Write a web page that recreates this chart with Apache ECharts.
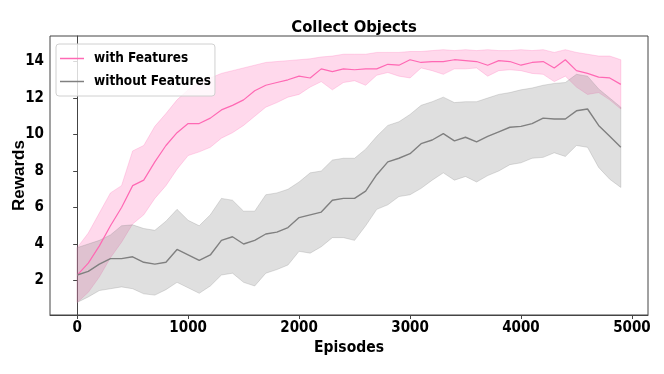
<!DOCTYPE html>
<html>
<head>
<meta charset="utf-8">
<script src="https://cdn.jsdelivr.net/npm/echarts@6/dist/echarts.min.js"></script>
<style>
  html, body { margin: 0; padding: 0; background: #fff; }
  #main { width: 664px; height: 374px; }
</style>
</head>
<body>
<div id="main"></div>
<script>
// episodes sampled every 100
const episodes = [0, 100, 200, 300, 400, 500, 600, 700, 800, 900,
  1000, 1100, 1200, 1300, 1400, 1500, 1600, 1700, 1800, 1900,
  2000, 2100, 2200, 2300, 2400, 2500, 2600, 2700, 2800, 2900,
  3000, 3100, 3200, 3300, 3400, 3500, 3600, 3700, 3800, 3900,
  4000, 4100, 4200, 4300, 4400, 4500, 4600, 4700, 4800, 4900]

// with Features
const withMean = [2.3, 2.95, 3.9, 5.0, 6.0, 7.2, 7.5, 8.5, 9.4, 10.1,
  10.6, 10.6, 10.9, 11.35, 11.6, 11.9, 12.4, 12.7, 12.85, 13.0,
  13.2, 13.1, 13.6, 13.45, 13.6, 13.55, 13.6, 13.6, 13.85, 13.8,
  14.1, 13.95, 14.0, 14.0, 14.1, 14.05, 14.0, 13.8, 14.05, 14.0,
  13.8, 13.95, 14.0, 13.65, 14.1, 13.5, 13.35, 13.15, 13.1, 12.75]
const withUpper = [3.8, 4.6, 5.7, 6.8, 7.2, 9.1, 9.4, 10.45, 11.15, 11.9,
  12.45, 12.9, 13.1, 13.35, 13.5, 13.65, 13.8, 13.95, 14.0, 14.05,
  14.1, 14.15, 14.25, 14.3, 14.4, 14.4, 14.4, 14.5, 14.5, 14.5,
  14.55, 14.55, 14.6, 14.65, 14.6, 14.65, 14.6, 14.65, 14.6, 14.6,
  14.65, 14.6, 14.65, 14.5, 14.65, 14.5, 14.4, 14.3, 14.3, 14.1]
const withLower = [0.8, 1.35, 2.2, 3.25, 4.1, 5.1, 5.6, 6.5, 7.2, 8.1,
  8.85, 9.05, 9.3, 9.8, 10.1, 10.5, 11.0, 11.5, 11.75, 12.05,
  12.2, 12.6, 12.9, 12.45, 12.85, 12.95, 12.7, 13.25, 13.4, 13.2,
  13.1, 13.65, 13.5, 13.3, 13.6, 13.6, 13.65, 13.2, 13.5, 13.55,
  13.5, 13.35, 13.3, 12.9, 13.2, 12.6, 12.2, 12.3, 11.9, 11.4]

// without Features
const withoutMean = [2.3, 2.5, 2.9, 3.2, 3.2, 3.3, 3.0, 2.9, 3.0, 3.7,
  3.4, 3.1, 3.4, 4.2, 4.4, 4.0, 4.2, 4.55, 4.65, 4.9,
  5.45, 5.6, 5.75, 6.4, 6.5, 6.5, 6.9, 7.8, 8.5, 8.7,
  8.95, 9.5, 9.7, 10.05, 9.65, 9.85, 9.6, 9.9, 10.15, 10.4,
  10.45, 10.6, 10.9, 10.85, 10.85, 11.3, 11.4, 10.5, 9.9, 9.3]
const withoutUpper = [3.8, 4.0, 4.2, 4.5, 5.0, 5.05, 4.85, 4.75, 5.25, 5.9,
  5.3, 5.0, 5.6, 6.5, 6.4, 5.8, 5.8, 6.7, 6.8, 7.0,
  7.4, 7.9, 8.0, 8.6, 8.7, 8.7, 9.2, 9.9, 10.5, 10.7,
  11.1, 11.6, 11.8, 12.05, 11.75, 11.8, 11.8, 12.0, 12.2, 12.3,
  12.45, 12.55, 12.7, 12.8, 12.85, 13.3, 13.2, 12.5, 12.0, 11.5]
const withoutLower = [0.8, 1.1, 1.45, 1.55, 1.65, 1.55, 1.27, 1.2, 1.5, 1.9,
  1.6, 1.3, 1.7, 2.3, 2.4, 1.9, 1.7, 2.4, 2.6, 2.85,
  3.6, 3.5, 3.85, 4.35, 4.35, 4.2, 5.0, 5.9, 6.15, 6.6,
  6.7, 7.05, 7.5, 7.9, 7.5, 7.7, 7.4, 7.75, 8.0, 8.35,
  8.45, 8.7, 8.75, 9.0, 8.8, 9.4, 9.3, 8.2, 7.55, 7.1]

const cond = '"DejaVu Sans Condensed", "DejaVu Sans", sans-serif'

function pairs (ys) {
  return episodes.map((e, i) => [e, ys[i]])
}

// shaded band between lower and upper, drawn through the axis scales
function band (lower, upper, fill) {
  return {
    type: 'custom',
    silent: true,
    z: 1,
    data: [[episodes[0], lower[0]]],
    renderItem (params, api) {
      const pts = []
      for (let i = 0; i < episodes.length; i++) pts.push(api.coord([episodes[i], upper[i]]))
      for (let i = episodes.length - 1; i >= 0; i--) pts.push(api.coord([episodes[i], lower[i]]))
      return {
        type: 'polygon',
        shape: { points: pts },
        style: { fill: fill, stroke: fill, lineWidth: 1 }
      }
    }
  }
}

const chart = echarts.init(document.getElementById('main'))
chart.setOption({
  animation: false,
  title: {
    text: 'Collect Objects',
    left: 349,
    top: 14,
    textAlign: 'center',
    textStyle: { fontFamily: cond, fontWeight: 'bold', fontSize: 16.5, color: '#000' }
  },
  legend: {
    data: [
      { name: 'with Features', icon: 'rect' },
      { name: 'without Features', icon: 'rect' }
    ],
    orient: 'vertical',
    left: 56,
    top: 44,
    padding: [6, 4, 6, 4],
    itemGap: 6,
    itemWidth: 24,
    itemHeight: 1.5,
    backgroundColor: 'rgba(255,255,255,0.8)',
    borderColor: '#d0d0d0',
    borderWidth: 1,
    borderRadius: 3,
    textStyle: { fontFamily: cond, fontWeight: 'bold', fontSize: 13.5, lineHeight: 17, color: '#000', padding: [0, 0, 0, 5] }
  },
  grid: {
    left: 50, right: 16, top: 36, bottom: 59,
    outerBoundsMode: 'none',
    show: true, borderColor: '#444', borderWidth: 1
  },
  xAxis: {
    type: 'value',
    min: -245,
    max: 5145,
    name: 'Episodes',
    nameLocation: 'middle',
    nameGap: 25,
    nameMoveOverlap: false,
    nameTextStyle: { fontFamily: cond, fontWeight: 'bold', fontSize: 15.5, color: '#000' },
    axisLine: { lineStyle: { color: '#444' } },
    axisTick: { length: 4, lineStyle: { color: '#444' } },
    axisLabel: {
      showMinLabel: false, showMaxLabel: false, margin: 6,
      formatter: v => String(v),
      fontFamily: cond, fontWeight: 'bold', fontSize: 15, color: '#000'
    },
    splitLine: { show: false }
  },
  yAxis: {
    type: 'value',
    min: 0.11,
    max: 15.4,
    splitNumber: 7,
    name: 'Rewards',
    nameLocation: 'middle',
    nameGap: 22,
    nameMoveOverlap: false,
    nameTextStyle: { fontFamily: '"Liberation Sans", Arial, sans-serif', fontWeight: 'bold', fontSize: 17, color: '#000' },
    axisLine: { show: true, lineStyle: { color: '#444' } },
    axisTick: { show: true, length: 4, lineStyle: { color: '#444' } },
    axisLabel: {
      showMinLabel: false, showMaxLabel: false, margin: 6,
      formatter: v => String(v),
      fontFamily: cond, fontWeight: 'bold', fontSize: 15, color: '#000'
    },
    splitLine: { show: false }
  },
  series: [
    band(withLower, withUpper, 'rgba(255,105,180,0.25)'),
    band(withoutLower, withoutUpper, 'rgba(128,128,128,0.25)'),
    {
      name: 'with Features',
      type: 'line',
      symbol: 'none',
      z: 3,
      color: '#ff69b4',
      lineStyle: { color: '#ff69b4', width: 1.2 },
      data: pairs(withMean)
    },
    {
      name: 'without Features',
      type: 'line',
      symbol: 'none',
      z: 3,
      color: '#808080',
      lineStyle: { color: '#808080', width: 1.4 },
      data: pairs(withoutMean)
    }
  ]
})
</script>
</body>
</html>
